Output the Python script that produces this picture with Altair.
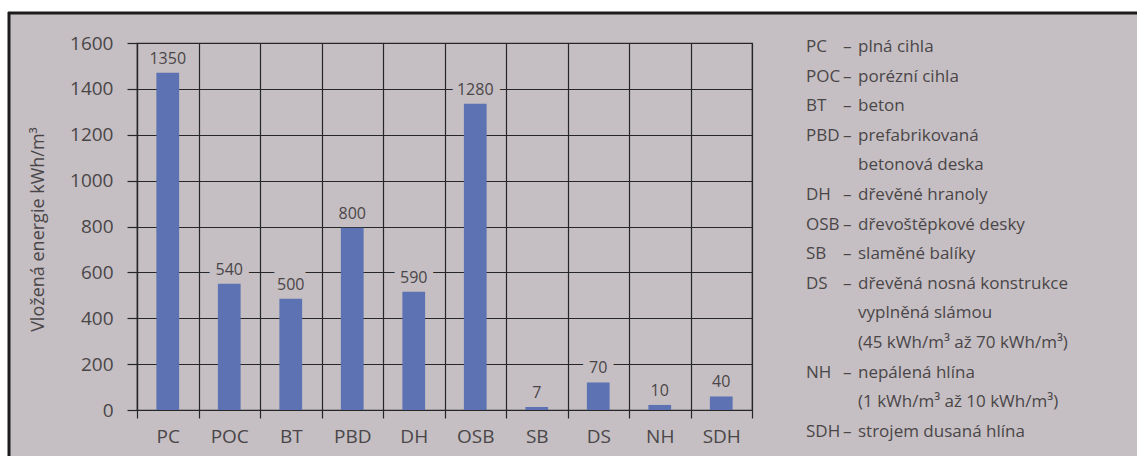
import altair as alt
import pandas as pd

# ---- data ----
categories = ["PC", "POC", "BT", "PBD", "DH", "OSB", "SB", "DS", "NH", "SDH"]
bar_values = [1470, 550, 485, 795, 515, 1335, 13, 120, 22, 59]          # drawn bar heights
bar_labels = ["1350", "540", "500", "800", "590", "1280", "7", "70", "10", "40"]  # printed labels
y_ticks = [0, 200, 400, 600, 800, 1000, 1200, 1400, 1600]
y_title = "Vložená energie kWh/m³"

legend_abbr = ["PC", "POC", "BT", "PBD", "", "DH", "OSB", "SB", "DS", "", "", "NH", "", "SDH"]
legend_desc = [
    "plná cihla",
    "porézní cihla",
    "beton",
    "prefabrikovaná",
    "betonová deska",
    "dřevěné hranoly",
    "dřevoštěpkové desky",
    "slaměné balíky",
    "dřevěná nosná konstrukce",
    "vyplněná slámou",
    "(45 kWh/m³ až 70 kWh/m³)",
    "nepálená hlína",
    "(1 kWh/m³ až 10 kWh/m³)",
    "strojem dusaná hlína",
]

# ---- styling ----
BG = "#c5bfc3"
BAR = "#5d72b3"
INK = "#4a4648"
GRID = "#262626"
FONT = "Open Sans"

W, H = 615, 367
PAD = {"left": 137, "top": 43, "right": 385, "bottom": 46}

bars_df = pd.DataFrame({"cat": categories, "value": bar_values, "label": bar_labels})

x_enc = alt.X(
    "cat:N",
    sort=categories,
    title=None,
    scale=alt.Scale(paddingInner=0, paddingOuter=0),
    axis=alt.Axis(
        tickBand="extent",
        grid=True,
        tickSize=8,
        labelPadding=9,
        labelFontSize=19,
        labelAngle=0,
        labelColor=INK,
        labelFont=FONT,
        domain=True,
    ),
)
y_enc = alt.Y(
    "value:Q",
    title=y_title,
    scale=alt.Scale(domain=[0, 1600], nice=False),
    axis=alt.Axis(
        values=y_ticks,
        format="d",
        tickSize=10,
        labelPadding=14,
        labelFontSize=19,
        labelColor=INK,
        labelFont=FONT,
        grid=True,
        titleX=-90,
        titleY=186,
        titleFontSize=18,
        titleFontWeight="normal",
        titleColor=INK,
        titleFont=FONT,
    ),
)

base = alt.Chart(bars_df)
bars = base.mark_bar(color=BAR, width={"band": 0.37}).encode(x=x_enc, y=y_enc)
halo = base.mark_text(
    baseline="bottom", dy=-6, fontSize=16, font=FONT,
    color=BG, stroke=BG, strokeWidth=14, strokeJoin="round",
).encode(x=alt.X("cat:N", sort=categories), y="value:Q", text="label:N")
labels = base.mark_text(
    baseline="bottom", dy=-6, fontSize=16, font=FONT, color=INK,
).encode(x=alt.X("cat:N", sort=categories), y="value:Q", text="label:N")

# ---- legend text on the right ----
rows = list(range(len(legend_desc)))
leg_df = pd.DataFrame({
    "row": rows,
    "abbr": legend_abbr,
    "desc": legend_desc,
    "dash": ["–" if a else "" for a in legend_abbr],
})
leg_df["ypix"] = 4 + leg_df["row"] * 29.6
leg_base = alt.Chart(leg_df)
leg_abbr = leg_base.mark_text(align="left", baseline="middle", fontSize=17, font=FONT, color=INK).encode(
    x=alt.value(669), y=alt.Y("ypix:Q", scale=None), text="abbr:N")
leg_dash = leg_base.mark_text(align="left", baseline="middle", fontSize=17, font=FONT, color=INK).encode(
    x=alt.value(706), y=alt.Y("ypix:Q", scale=None), text="dash:N")
leg_desc = leg_base.mark_text(align="left", baseline="middle", fontSize=17, font=FONT, color=INK).encode(
    x=alt.value(721), y=alt.Y("ypix:Q", scale=None), text="desc:N")

# ---- photo frame: white margin + dark border ----
one = pd.DataFrame({"k": [0]})
white_top = alt.Chart(one).mark_rect(color="white").encode(
    x=alt.value(-137), x2=alt.value(1000), y=alt.value(-43), y2=alt.value(-31))
white_left = alt.Chart(one).mark_rect(color="white").encode(
    x=alt.value(-137), x2=alt.value(-129), y=alt.value(-43), y2=alt.value(413))
border_top = alt.Chart(one).mark_rule(color="#1c1c1c", strokeWidth=3).encode(
    x=alt.value(-129), x2=alt.value(1000), y=alt.value(-30))
border_left = alt.Chart(one).mark_rule(color="#1c1c1c", strokeWidth=3).encode(
    x=alt.value(-128), y=alt.value(-31), y2=alt.value(413))

chart = alt.layer(
    bars, halo, labels, leg_abbr, leg_dash, leg_desc,
    white_top, white_left, border_top, border_left,
).properties(
    width=W, height=H,
    padding=PAD,
    autosize=alt.AutoSizeParams(type="none"),
    background=BG,
).configure_view(
    stroke=GRID, strokeWidth=1.2,
).configure_axis(
    gridColor=GRID, gridOpacity=1, gridWidth=1.2,
    tickColor=GRID, tickWidth=1.2,
    domainColor=GRID, domainWidth=1.2,
)

chart.save("out.html", embed_options={"renderer": "svg", "actions": False})
